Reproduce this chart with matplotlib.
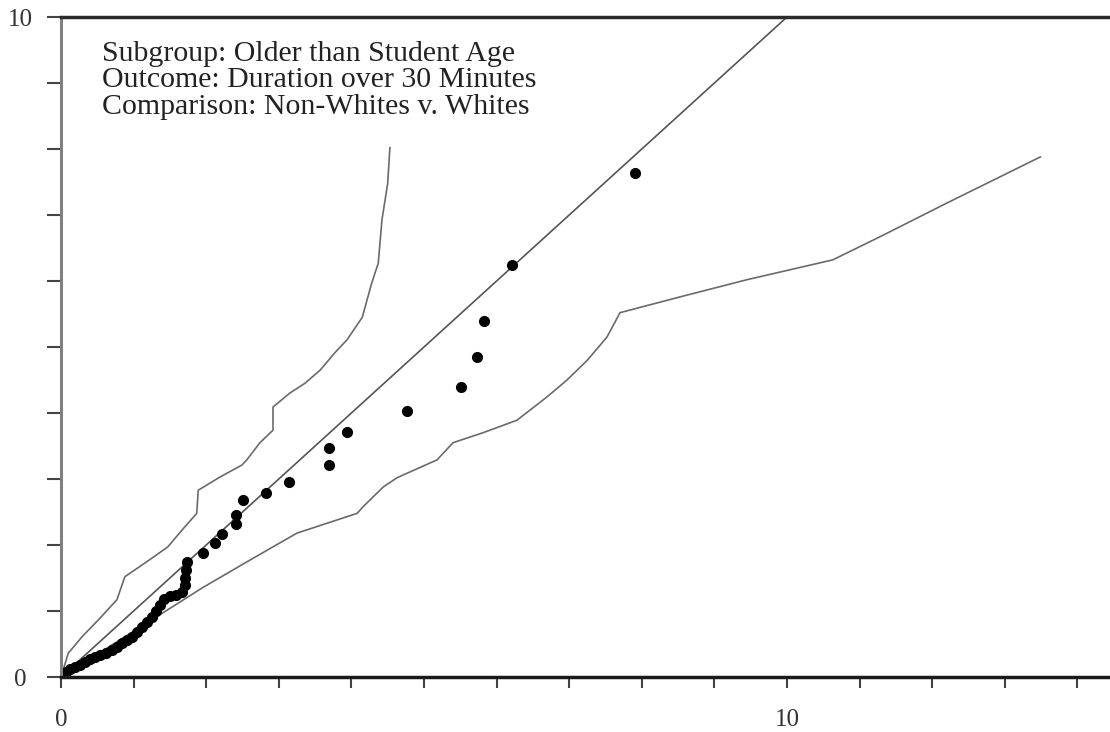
import matplotlib.pyplot as plt
import numpy as np

# quantiles of the two groups (non-whites vs whites)
q_x = [0.03, 0.07, 0.12, 0.19, 0.26, 0.33, 0.40, 0.47, 0.54, 0.62, 0.70, 0.77,
       0.84, 0.91, 0.98, 1.05, 1.12, 1.18, 1.25, 1.31, 1.36, 1.42, 1.50, 1.58,
       1.67, 1.71, 1.71, 1.72, 1.74, 1.96, 2.12, 2.22, 2.41, 2.41, 2.51, 2.82,
       3.14, 3.69, 3.69, 3.94, 4.77, 5.51, 5.73, 5.83, 6.21, 7.91]
q_y = [0.03, 0.08, 0.12, 0.15, 0.18, 0.23, 0.27, 0.30, 0.33, 0.36, 0.41, 0.45,
       0.52, 0.56, 0.61, 0.68, 0.76, 0.83, 0.91, 1.00, 1.09, 1.18, 1.23, 1.24,
       1.29, 1.39, 1.50, 1.62, 1.74, 1.88, 2.03, 2.17, 2.32, 2.45, 2.68, 2.79,
       2.95, 3.21, 3.47, 3.71, 4.03, 4.39, 4.85, 5.39, 6.24, 7.64]

# upper confidence band
upper_x = [0.0, 0.10, 0.29, 0.51, 0.77, 0.88, 1.16, 1.47, 1.67, 1.87, 1.89,
           2.19, 2.49, 2.56, 2.74, 2.92, 2.92, 3.15, 3.36, 3.57, 3.77, 3.94,
           4.15, 4.28, 4.37, 4.42, 4.50, 4.53]
upper_y = [0.0, 0.36, 0.61, 0.86, 1.17, 1.52, 1.73, 1.97, 2.23, 2.48, 2.83,
           3.03, 3.21, 3.29, 3.55, 3.74, 4.09, 4.30, 4.45, 4.65, 4.91, 5.11,
           5.45, 5.97, 6.27, 6.92, 7.48, 8.02]

# lower confidence band
lower_x = [0.0, 1.40, 1.96, 2.60, 3.25, 4.08, 4.16, 4.44, 4.63, 5.18, 5.40,
           5.81, 6.28, 6.69, 6.97, 7.25, 7.52, 7.70, 8.53, 9.45, 10.63, 11.28,
           12.20, 13.49]
lower_y = [0.0, 0.97, 1.36, 1.77, 2.18, 2.48, 2.58, 2.88, 3.02, 3.29, 3.55,
           3.70, 3.89, 4.24, 4.50, 4.80, 5.15, 5.52, 5.76, 6.02, 6.32, 6.67,
           7.18, 7.88]

diag = [0, 10]

fig = plt.figure(figsize=(11.1, 7.32), dpi=100)
ax = fig.add_axes([61 / 1110, 55 / 732, 1049 / 1110, 660 / 732])

line_col = '#6a6a6a'
ax.plot(diag, diag, color='#555555', lw=1.2)
ax.plot(upper_x, upper_y, color=line_col, lw=1.2)
ax.plot(lower_x, lower_y, color=line_col, lw=1.2)
ax.plot(q_x, q_y, 'o', color='black', ms=7, mec='black')

ax.set_xlim(0, 1049 / 72.6)
ax.set_ylim(0, 10)

ax.set_xticks(np.arange(0, 15))
ax.set_xticklabels(['0' if v == 0 else '10' if v == 10 else '' for v in range(15)])
ax.set_yticks(np.arange(0, 11))
ax.set_yticklabels(['0' if v == 0 else '10' if v == 10 else '' for v in range(11)],
                   ha='center')

ax.spines['right'].set_visible(False)
ax.spines['left'].set_color('#808080')
ax.spines['left'].set_linewidth(2.2)
ax.spines['bottom'].set_color('#1a1a1a')
ax.spines['bottom'].set_linewidth(2.5)
ax.spines['top'].set_color('#2a2a2a')
ax.spines['top'].set_linewidth(2.5)

ax.tick_params(axis='x', length=8, width=1.5, color='#444444', pad=15,
               labelsize=18, labelfontfamily='Liberation Serif', labelcolor='#333333')
ax.tick_params(axis='y', length=10, width=1.5, color='#444444', pad=19,
               labelsize=18, labelfontfamily='Liberation Serif', labelcolor='#333333')

ax.text(0.56, 9.64, 'Subgroup: Older than Student Age\n'
        'Outcome: Duration over 30 Minutes\n'
        'Comparison: Non-Whites v. Whites',
        family='Liberation Serif', fontsize=21.5, color='#222222',
        va='top', ha='left', linespacing=1.02)

fig.savefig('out.png', dpi=100, facecolor='white')
